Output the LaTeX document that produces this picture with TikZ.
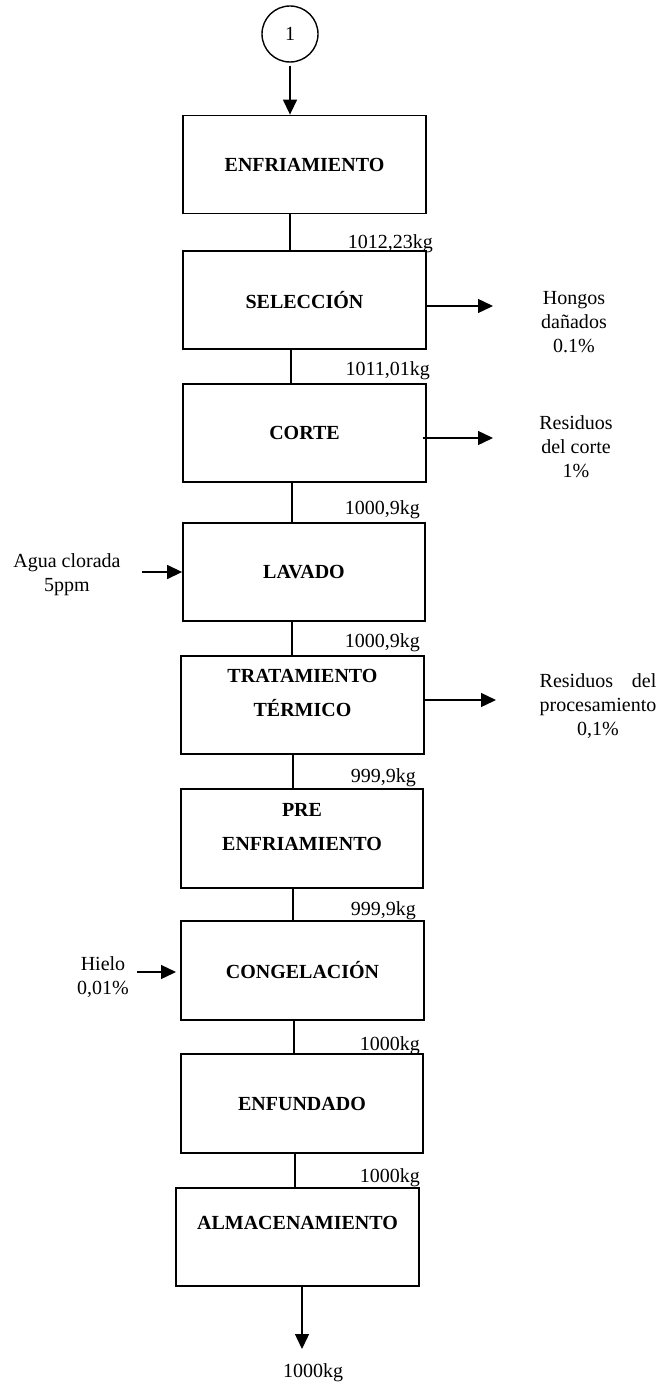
\documentclass[tikz,border=0pt]{standalone}
\usepackage{fontspec}
\setmainfont{Liberation Serif}
\usepackage{calc}
\usetikzlibrary{arrows.meta}
\begin{document}
\begin{tikzpicture}[x=1pt,y=-1pt,
  every node/.style={font=\fontsize{20}{24}\selectfont},
  procbox/.style={draw, line width=1.8pt, minimum width=243pt, minimum height=98pt, inner sep=0pt, align=center, font=\fontsize{20}{34}\selectfont\bfseries},
  conn/.style={line width=1.4pt},
  arr/.style={line width=1.4pt, -{Triangle[length=15pt,width=14pt]}},
  wlabel/.style={anchor=base east, inner sep=0pt},
  sidetext/.style={align=center, inner sep=0pt}]
\useasboundingbox (0,0) rectangle (659,1388);

% start connector
\node[draw, circle, line width=1.4pt, minimum size=56pt, inner sep=0pt] (c1) at (290,34) {1};

% process boxes
\node[procbox] (enf)  at (304.5,164.5) {ENFRIAMIENTO};
\node[procbox] (sel)  at (304.5,300)   {SELECCIÓN};
\node[procbox] (cor)  at (304.5,433)   {CORTE};
\node[procbox, minimum width=242pt] (lav)  at (304,572) {LAVADO};
\node[procbox] (tra)  at (302.5,705)   {TRATAMIENTO\\TÉRMICO\\[-10pt]};
\node[procbox, minimum width=242pt, minimum height=99pt] (pre) at (302,838.5) {PRE\\ENFRIAMIENTO\\[-10pt]};
\node[procbox, minimum height=99pt] (con) at (302.5,970.5) {CONGELACIÓN};
\node[procbox, minimum width=242pt, minimum height=99pt] (enfu) at (302,1103.5) {ENFUNDADO};
\node[procbox] (alm)  at (297.5,1237)  {ALMACENAMIENTO\\[-6pt]};

% vertical connectors
\draw[arr] ([yshift=-3pt]c1.south) -- (c1.south |- enf.north);
\draw[conn] ([xshift=-14.5pt]enf.south) -- ([xshift=-14.5pt]enf.south |- sel.north);
\draw[conn] ([xshift=-13.5pt]sel.south) -- ([xshift=-13.5pt]sel.south |- cor.north);
\draw[conn] ([xshift=-12.5pt]cor.south) -- ([xshift=-12.5pt]cor.south |- lav.north);
\draw[conn] ([xshift=-12pt]lav.south) -- ([xshift=-12pt]lav.south |- tra.north);
\draw[conn] ([xshift=-9.5pt]tra.south) -- ([xshift=-9.5pt]tra.south |- pre.north);
\draw[conn] ([xshift=-9pt]pre.south) -- ([xshift=-9pt]pre.south |- con.north);
\draw[conn] ([xshift=-8.5pt]con.south) -- ([xshift=-8.5pt]con.south |- enfu.north);
\draw[conn] ([xshift=-7pt]enfu.south) -- ([xshift=-7pt]enfu.south |- alm.north);

% weight labels
\node[wlabel] (w1) at (433,248) {1012,23kg};
\node[wlabel] (w2) at (430,375) {1011,01kg};
\node[wlabel] (w3) at (420,514) {1000,9kg};
\node[wlabel] (w4) at (420,647) {1000,9kg};
\node[wlabel] (w5) at (416,782) {999,9kg};
\node[wlabel] (w6) at (416,915) {999,9kg};
\node[wlabel] (w7) at (420,1050) {1000kg};
\node[wlabel] (w8) at (420,1182) {1000kg};

% side outputs
\node[sidetext] (hongos) at (574,322) {Hongos\\dañados\\0.1\%};
\coordinate (tipH) at (493,306);
\draw[arr] (tipH -| sel.east) -- (tipH);

\node[sidetext] (rescorte) at (576,447) {Residuos\\del corte\\1\%};
\coordinate (tipC) at (493,438);
\coordinate (startC) at (423,438);
\draw[arr] (startC) -- (tipC);

\node[sidetext] (resproc) at (598,706) {\makebox[\widthof{procesamiento}][s]{Residuos\hfill del}\\procesamiento\\0,1\%};
\coordinate (tipT) at (496,700);
\draw[arr] (tipT -| tra.east) -- (tipT);

% side inputs
\node[sidetext] (agua) at (67,575) {Agua clorada\\5ppm};
\coordinate (startA) at (142,572);
\draw[arr] (startA) -- (startA -| lav.west);

\node[sidetext] (hielo) at (103,977) {Hielo\\0,01\%};
\coordinate (startH) at (137,972);
\coordinate (tipHi) at (176,972);
\draw[arr] (startH) -- (tipHi);

% final output
\node[inner sep=0pt] (out) at (313,1373) {1000kg};
\draw[arr] ([xshift=4.5pt]alm.south) -- ([xshift=4.5pt]alm.south |- 0,1349);
\end{tikzpicture}
\end{document}
